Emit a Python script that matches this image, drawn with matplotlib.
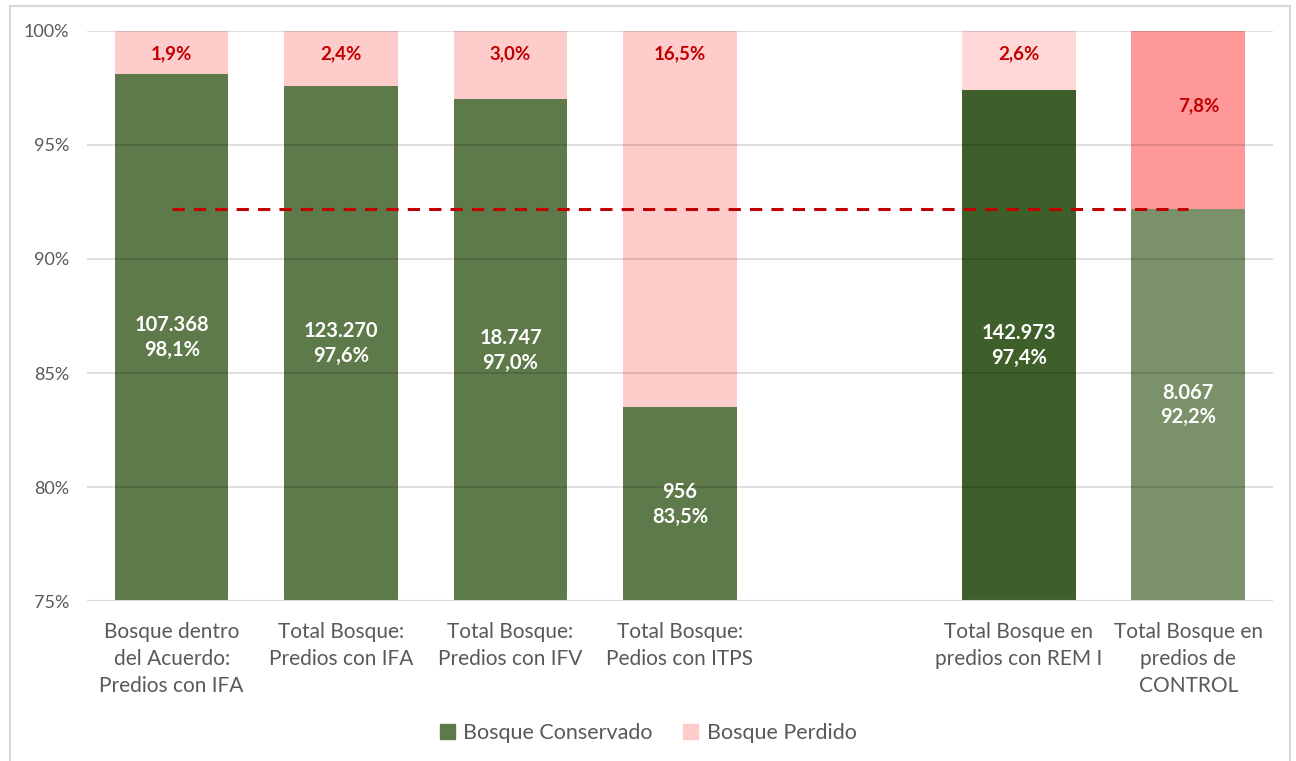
"""
Stacked percentage bars: bosque conservado vs perdido per group.
"""
import matplotlib
matplotlib.use('Agg')
import matplotlib.pyplot as plt
from matplotlib.patches import Rectangle, Patch

plt.rcParams['font.family'] = ['Lato', 'DejaVu Sans']

# data (None = empty slot between groups)
categories = ['Bosque dentro\ndel Acuerdo:\nPredios con IFA',
              'Total Bosque:\nPredios con IFA',
              'Total Bosque:\nPredios con IFV',
              'Total Bosque:\nPedios con ITPS',
              '',
              'Total Bosque en\npredios con REM I',
              'Total Bosque en\npredios de\nCONTROL']
conservado = [98.1, 97.6, 97.0, 83.5, None, 97.4, 92.2]
perdido = [1.9, 2.4, 3.0, 16.5, None, 2.6, 7.8]
hectareas = ['107.368', '123.270', '18.747', '956', None, '142.973', '8.067']
control_line = 92.2

COLORS = {
    'green': ['#5E7A4A', '#5E7A4A', '#5E7A4A', '#5E7A4A', None, '#3F5F2A', '#7A9169'],
    'pink': ['#FFCCCC', '#FFCCCC', '#FFCCCC', '#FFCCCC', None, '#FFD7D7', '#FF9999'],
    'label_red': '#C00000',
    'text': '#595959',
    'grid': '#D9D9D9',
}

# where the red labels sit (distance below 100%)
red_label_offset = [1.0, 1.0, 1.0, 1.0, None, 1.0, 3.3]
red_label_dx = [0, 0, 0, 0, None, 0, 0.06]


def pct(v):
    return f'{v:.1f}%'.replace('.', ',')


fig = plt.figure(figsize=(12.96, 7.61), dpi=100)
ax = fig.add_axes([0.0671, 0.2102, 0.9151, 0.7491])

base = 75
width = 0.67
for i, (c, p) in enumerate(zip(conservado, perdido)):
    if c is None:
        continue
    ax.bar(i, c - base, bottom=base, width=width, color=COLORS['green'][i], zorder=2)
    ax.bar(i, p, bottom=c, width=width, color=COLORS['pink'][i], zorder=2)
    mid = (base + c) / 2
    ax.text(i, mid, hectareas[i] + '\n' + pct(c),
            ha='center', va='center', color='white', fontsize=14.5,
            fontweight='bold', linespacing=1.3, zorder=4)
    ax.text(i + red_label_dx[i], 100 - red_label_offset[i], pct(p),
            ha='center', va='center', color=COLORS['label_red'], fontsize=13.5,
            fontweight='bold', zorder=4)

# reference line at control level
ax.plot([0, 6], [control_line, control_line], color='#C00000', linestyle=(0, (4, 3)),
        linewidth=2.2, zorder=3)

ax.set_xlim(-0.5, 6.5)
ax.set_ylim(75, 100)
ax.set_yticks([75, 80, 85, 90, 95, 100])
ax.set_yticklabels([f'{t}%' for t in [75, 80, 85, 90, 95, 100]])
ax.set_xticks(range(len(categories)))
ax.set_xticklabels(categories, fontsize=15, color=COLORS['text'], linespacing=1.45,
                   va='top')
ax.tick_params(axis='y', labelsize=13, colors=COLORS['text'], length=0, pad=13)
ax.tick_params(axis='x', length=0, pad=15)
for lab in ax.get_yticklabels():
    lab.set_color(COLORS['text'])

# gridlines drawn over the bars, faintly
for t in [80, 85, 90, 95, 100]:
    ax.axhline(t, color='black', alpha=0.15, linewidth=1.2, zorder=3)
ax.axhline(75, color=COLORS['grid'], linewidth=1.5, zorder=3)
for s in ax.spines.values():
    s.set_visible(False)

handles = [Patch(color=COLORS['green'][0]), Patch(color=COLORS['pink'][0])]
fig.legend(handles, ['Bosque Conservado', 'Bosque Perdido'], loc='center',
           bbox_to_anchor=(0.5, 1 - 733 / 761), ncol=2, frameon=False,
           fontsize=15.5, labelcolor=COLORS['text'], handlelength=0.7,
           handleheight=0.7, handletextpad=0.4, columnspacing=1.4)

# chart area border
fig.patches.append(Rectangle((10 / 1296, -0.02), 1280 / 1296, 1.02 - 6 / 761,
                             transform=fig.transFigure, fill=False,
                             edgecolor=COLORS['grid'], linewidth=1.5))

fig.savefig('out.png', dpi=100)
